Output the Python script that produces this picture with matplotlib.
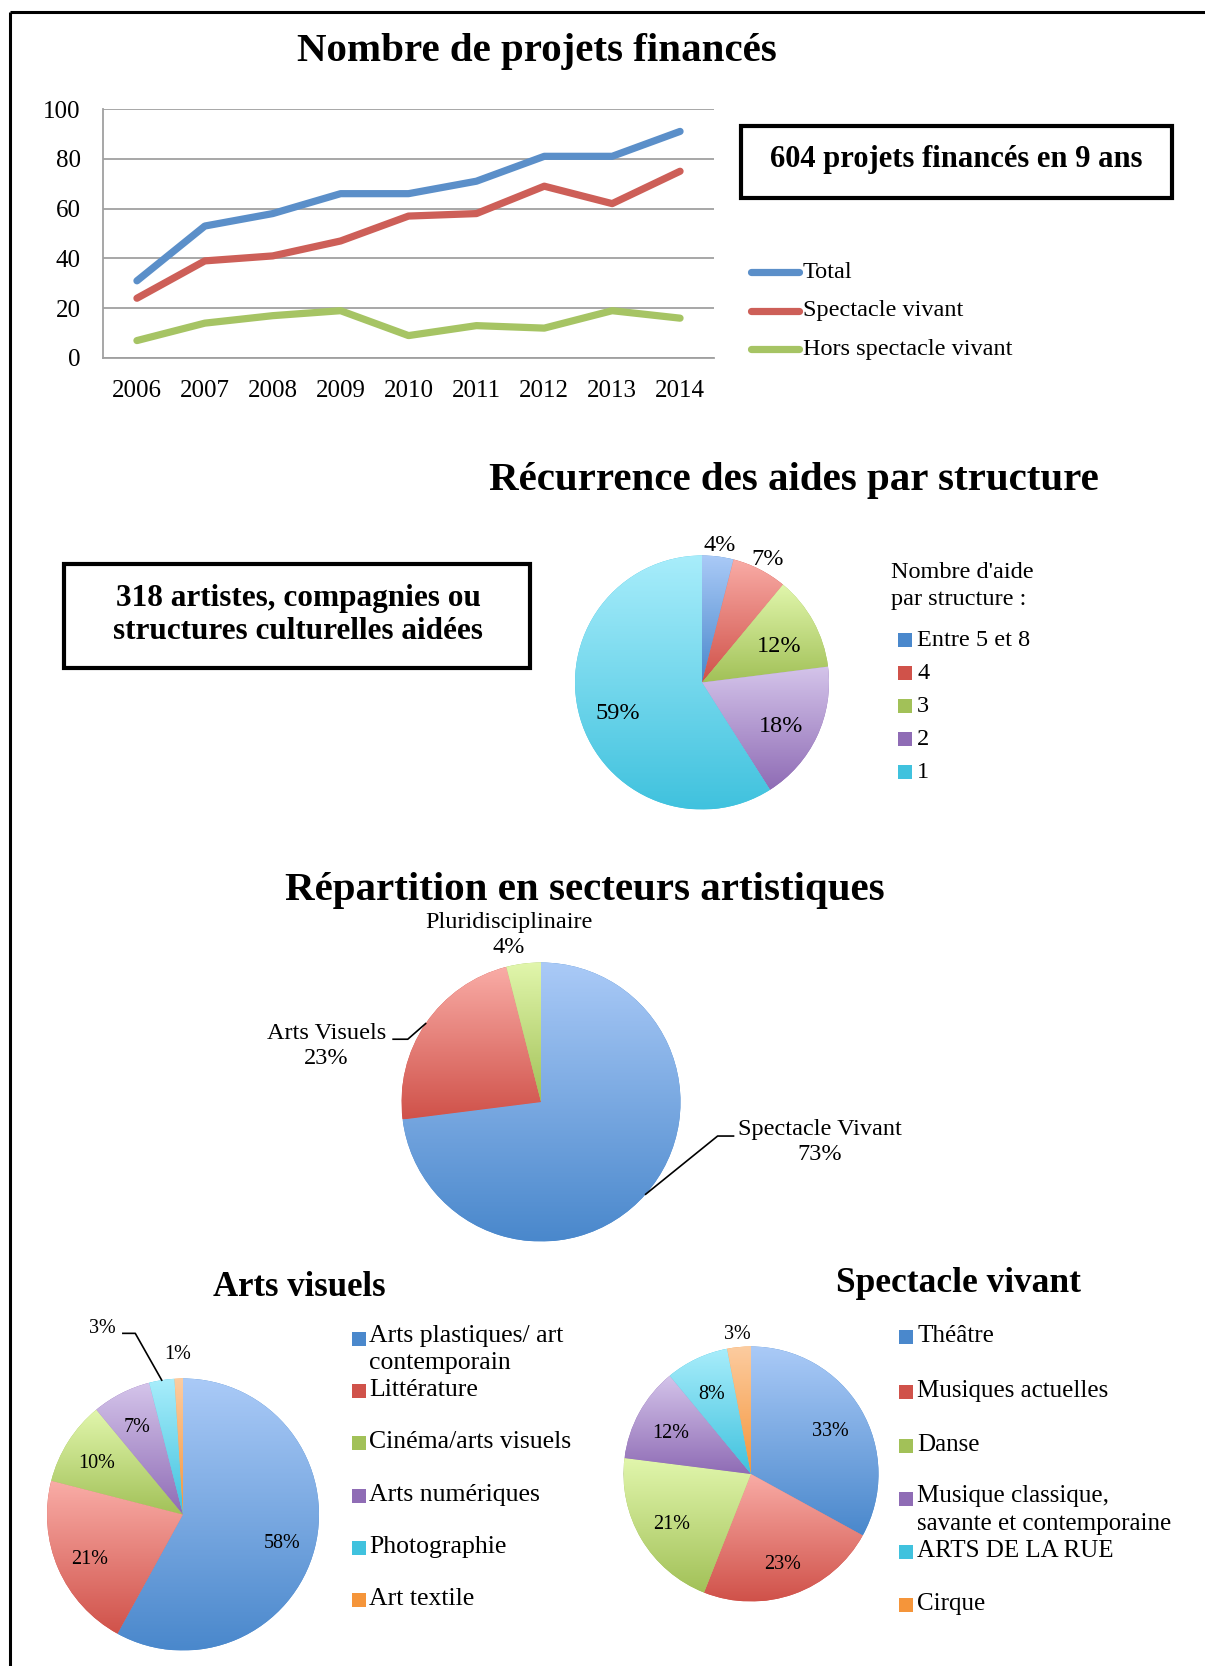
import numpy as np
import matplotlib
matplotlib.use("Agg")
import matplotlib.pyplot as plt
from matplotlib.colors import LinearSegmentedColormap
from matplotlib.patches import Rectangle

plt.rcParams['font.family'] = ['Liberation Serif', 'DejaVu Serif']

# --- data ---
years = ['2006', '2007', '2008', '2009', '2010', '2011', '2012', '2013', '2014']
total = [31, 53, 58, 66, 66, 71, 81, 81, 91]
spectacle = [24, 39, 41, 47, 57, 58, 69, 62, 75]
hors_spectacle = [7, 14, 17, 19, 9, 13, 12, 19, 16]
line_names = ['Total', 'Spectacle vivant', 'Hors spectacle vivant']

recur_labels = ['Entre 5 et 8', '4', '3', '2', '1']
recur_vals = [4, 7, 12, 18, 59]

secteur_labels = ['Spectacle Vivant', 'Arts Visuels', 'Pluridisciplinaire']
secteur_vals = [73, 23, 4]

av_labels = ['Arts plastiques/ art\ncontemporain', 'Littérature', 'Cinéma/arts visuels',
             'Arts numériques', 'Photographie', 'Art textile']
av_vals = [58, 21, 10, 7, 3, 1]

sv_labels = ['Théâtre', 'Musiques actuelles', 'Danse',
             'Musique classique,\nsavante et contemporaine', 'ARTS DE LA RUE', 'Cirque']
sv_vals = [33, 23, 21, 12, 8, 3]

# gradient colours (light top, dark bottom)
LIGHT = {'blue': '#AACAF7', 'red': '#F9ACA6', 'green': '#E1F6AC',
         'purple': '#D4C4EA', 'cyan': '#A8EDFB', 'orange': '#FCCCA0'}
DARK = {'blue': '#4A88CC', 'red': '#D0524A', 'green': '#A2C158',
        'purple': '#8F6CB5', 'cyan': '#40C2DE', 'orange': '#F5953A'}

W, H = 1205, 1666
fig = plt.figure(figsize=(W / 100, H / 100), dpi=100)

# overlay in pixel coordinates for boxes / titles / frame
ov = fig.add_axes([0, 0, 1, 1])
ov.set_xlim(0, W)
ov.set_ylim(H, 0)
ov.axis('off')


def px_axes(x0, y0, x1, y1):
    return fig.add_axes([x0 / W, 1 - y1 / H, (x1 - x0) / W, (y1 - y0) / H])


# frame (top + left)
ov.plot([10, W], [12, 12], color='black', lw=2.2, solid_capstyle='butt')
ov.plot([10, 10], [12, H], color='black', lw=2.2, solid_capstyle='butt')

# titles
tkw = dict(ha='center', va='center', fontweight='bold', color='black')
ov.text(537, 51, 'Nombre de projets financés', fontsize=29.5, **tkw)
ov.text(794, 480, 'Récurrence des aides par structure', fontsize=29.5, **tkw)
ov.text(585, 890, 'Répartition en secteurs artistiques', fontsize=29.5, **tkw)
ov.text(299, 1287, 'Arts visuels', fontsize=25, **tkw)
ov.text(958, 1284, 'Spectacle vivant', fontsize=25.5, **tkw)

# boxes
ov.add_patch(Rectangle((741, 126), 431, 72, fill=False, lw=3, ec='black'))
ov.text(956, 159, '604 projets financés en 9 ans', fontsize=22, **tkw)
ov.add_patch(Rectangle((64, 564), 466, 104, fill=False, lw=3, ec='black'))
ov.text(298, 615, '318 artistes, compagnies ou\nstructures culturelles aidées',
        fontsize=22.5, linespacing=1.15, **tkw)

# --- line chart ---
ax = px_axes(103, 109, 714, 358)
x = np.arange(len(years))
line_cols = ['#5B8FC9', '#CD5F58', '#A6C464']
for vals, c in zip([total, spectacle, hors_spectacle], line_cols):
    ax.plot(x, vals, color=c, lw=5.2, solid_capstyle='round', solid_joinstyle='round')
ax.set_xlim(-0.5, len(years) - 0.5)
ax.set_ylim(0, 100)
ax.set_yticks(range(0, 101, 20))
ax.set_xticks(x)
ax.set_xticklabels(years)
ax.tick_params(length=0, labelsize=18)
ax.tick_params(axis='y', pad=16)
ax.tick_params(axis='x', pad=16)
ax.yaxis.grid(True, color='#A0A0A0', lw=1.3)
ax.set_axisbelow(True)
for s in ['top', 'right']:
    ax.spines[s].set_visible(False)
for s in ['left', 'bottom']:
    ax.spines[s].set_color('#A0A0A0')
    ax.spines[s].set_linewidth(1.3)

# legend of the line chart
for i, (name, c) in enumerate(zip(line_names, line_cols)):
    y = 272 + i * 38.5
    ov.plot([751, 799], [y, y], color=c, lw=5.2, solid_capstyle='round')
    ov.text(803, y, name, fontsize=17.5, ha='left', va='center')


def gradient_pie(ax, vals, keys):
    wedges, _ = ax.pie(vals, startangle=90, counterclock=False,
                       colors=[DARK[k] for k in keys], wedgeprops=dict(linewidth=0))
    for w, k in zip(wedges, keys):
        th = np.radians(np.linspace(w.theta1, w.theta2, 60))
        xs = np.concatenate([[0], np.cos(th)])
        ys = np.concatenate([[0], np.sin(th)])
        cmap = LinearSegmentedColormap.from_list('g', [DARK[k], LIGHT[k]])
        im = ax.imshow(np.linspace(0, 1, 200).reshape(-1, 1), cmap=cmap, origin='lower',
                       extent=(xs.min(), xs.max(), ys.min(), ys.max()), aspect='auto',
                       interpolation='bilinear', zorder=2)
        im.set_clip_path(w)
    ax.set_xlim(-1.7, 1.7)
    ax.set_ylim(-1.7, 1.7)
    ax.set_aspect('equal')
    ax.axis('off')
    return wedges


def pie_axes(cx, cy, r):
    return px_axes(cx - 1.7 * r, cy - 1.7 * r, cx + 1.7 * r, cy + 1.7 * r)


def mid(w):
    return np.radians((w.theta1 + w.theta2) / 2)


# --- pie 1: recurrence ---
keys1 = ['blue', 'red', 'green', 'purple', 'cyan']
ax1 = pie_axes(702, 682.5, 127)
wd = gradient_pie(ax1, recur_vals, keys1)
for w, v in zip(wd, recur_vals):
    d = 1.14 if v < 10 else 0.69
    a = mid(w)
    ax1.text(d * np.cos(a), d * np.sin(a) - 0.05, '%d%%' % v, ha='center', va='center',
             fontsize=17.5, zorder=5)

ov.text(891, 572, "Nombre d'aide", fontsize=17.5, ha='left', va='center')
ov.text(891, 600, 'par structure :', fontsize=17.5, ha='left', va='center')
for i, (lab, k) in enumerate(zip(recur_labels, keys1)):
    y = 640 + i * 33
    ov.add_patch(Rectangle((898, y - 7), 13.5, 13.5, color=DARK[k], lw=0))
    ov.text(917, y, lab, fontsize=17.5, ha='left', va='center')

# --- pie 2: secteurs ---
keys2 = ['blue', 'red', 'green']
ax2 = pie_axes(541, 1102, 139.5)
wd = gradient_pie(ax2, secteur_vals, keys2)
lkw = dict(ha='center', va='center', fontsize=17.5, linespacing=1.25, zorder=5)
# spectacle vivant
a = mid(wd[0])
ax2.plot([np.cos(a), 1.266, 1.38], [np.sin(a), -0.244, -0.244], color='black', lw=1.2)
ax2.text(2.0, -0.29, '%s\n%d%%' % (secteur_labels[0], secteur_vals[0]), **lkw)
# arts visuels
a = mid(wd[1])
ax2.plot([np.cos(a), -0.955, -1.06], [np.sin(a), 0.45, 0.45], color='black', lw=1.2)
ax2.text(-1.54, 0.40, '%s\n%d%%' % (secteur_labels[1], secteur_vals[1]), **lkw)
# pluridisciplinaire
a = mid(wd[2])
ax2.text(1.2 * np.cos(a) - 0.08, 1.2, '%s\n%d%%' % (secteur_labels[2], secteur_vals[2]), **lkw)

# --- pie 3: arts visuels ---
keys6 = ['blue', 'red', 'green', 'purple', 'cyan', 'orange']
ax3 = pie_axes(183, 1514.5, 136)
wd = gradient_pie(ax3, av_vals, keys6)
for i, (w, v) in enumerate(zip(wd, av_vals)):
    a = mid(w)
    if i == 4:
        ax3.plot([np.cos(a), -0.351, -0.442], [np.sin(a), 1.332, 1.332], color='black', lw=1.2)
        ax3.text(-0.593, 1.369, '%d%%' % v, ha='center', va='center', fontsize=14.5, zorder=5)
    elif i == 5:
        ax3.text(1.18 * np.cos(a), 1.18 * np.sin(a), '%d%%' % v, ha='center', va='center',
                 fontsize=14.5, zorder=5)
    else:
        ax3.text(0.75 * np.cos(a), 0.75 * np.sin(a) - 0.03, '%d%%' % v, ha='center', va='center',
                 fontsize=14.5, zorder=5)

av_y = [1339, 1391, 1443, 1496, 1548, 1600]
for lab, k, y in zip(av_labels, keys6, av_y):
    ov.add_patch(Rectangle((352, y - 7), 13.5, 13.5, color=DARK[k], lw=0))
    if '\n' in lab:
        ov.text(369, y - 14, lab, fontsize=18.5, ha='left', va='top', linespacing=1.3)
    else:
        ov.text(369, y - 1, lab, fontsize=18.5, ha='left', va='center')

# --- pie 4: spectacle vivant ---
ax4 = pie_axes(751, 1474, 127.5)
wd = gradient_pie(ax4, sv_vals, keys6)
for w, v in zip(wd, sv_vals):
    a = mid(w)
    d = 1.13 if v < 5 else 0.72
    ax4.text(d * np.cos(a), d * np.sin(a) - 0.03, '%d%%' % v, ha='center', va='center',
             fontsize=14.5, zorder=5)

sv_y = [1337, 1392, 1446, 1499, 1552, 1605]
for lab, k, y in zip(sv_labels, keys6, sv_y):
    ov.add_patch(Rectangle((899, y - 7), 13.5, 13.5, color=DARK[k], lw=0))
    if '\n' in lab:
        ov.text(917, y - 14, lab, fontsize=18, ha='left', va='top', linespacing=1.38)
    else:
        ov.text(917, y - 1, lab, fontsize=18, ha='left', va='center')

fig.savefig('out.png', dpi=100)
